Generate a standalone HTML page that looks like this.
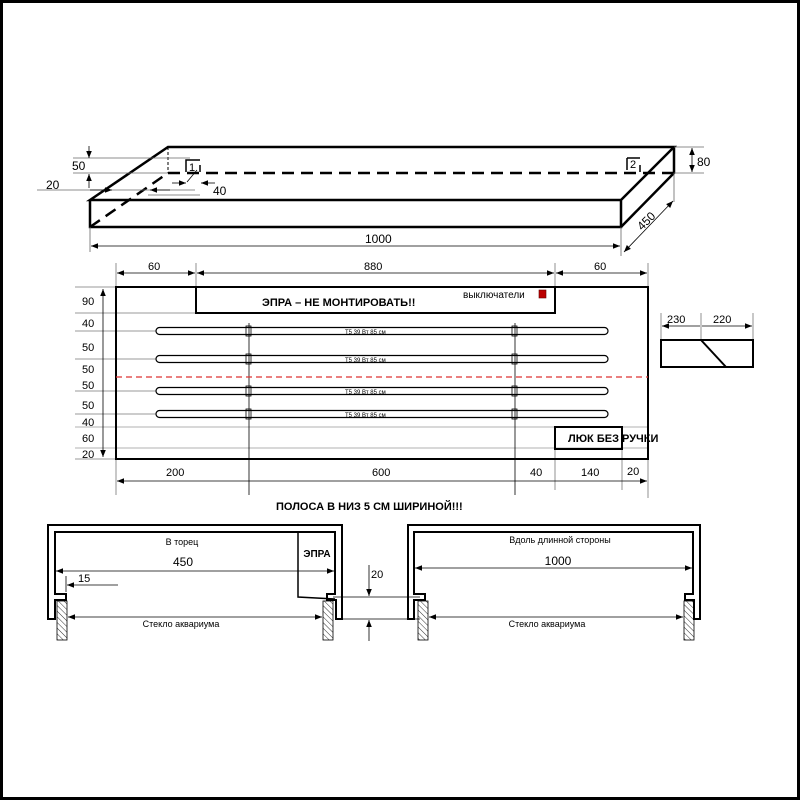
<!DOCTYPE html>
<html><head><meta charset="utf-8"><style>
html,body{margin:0;padding:0;background:#fff}
svg{display:block}
text{font-family:"Liberation Sans",sans-serif;fill:#000}
</style></head><body>
<svg width="800" height="800" viewBox="0 0 800 800" xmlns="http://www.w3.org/2000/svg">
<defs>
<marker id="a" viewBox="0 0 10 10" refX="10" refY="5" markerWidth="10" markerHeight="7" orient="auto-start-reverse" markerUnits="userSpaceOnUse"><path d="M0,1 L10,5 L0,9 z" fill="#000"/></marker>
<pattern id="h" width="4" height="4" patternUnits="userSpaceOnUse" patternTransform="rotate(-45)"><line x1="0" y1="0" x2="0" y2="4" stroke="#000" stroke-width="0.8"/></pattern>
</defs>
<rect x="1.5" y="1.5" width="797" height="797" fill="#fff" stroke="#000" stroke-width="3"/>

<!-- isometric box -->
<g stroke="#000" fill="none">
<path d="M90,200 L168,147 L674,147 L621,200 Z M90,200 L90,227 L621,227 L621,200 M621,227 L674,173 L674,147" stroke-width="2.5"/>
<path d="M168,173 L674,173" stroke-width="2.5" stroke-dasharray="12,7"/>
<path d="M90,227 L168,173" stroke-width="2.5" stroke-dasharray="12,7"/>
<path d="M168,147 L168,173" stroke-width="1" stroke-dasharray="3,2"/>
<path d="M186,172 L186,160 L200,160 M200,165 L200,172" stroke-width="1.5"/>
<path d="M627,158 L627,170 M627,158 L640,158 M640,165 L640,172" stroke-width="1.5"/>
<g stroke-width="0.8" stroke="#666">
<line x1="73" y1="158" x2="190" y2="158"/>
<line x1="73" y1="173" x2="168" y2="173"/>
<line x1="37" y1="190" x2="195" y2="190"/>
<line x1="148" y1="195" x2="200" y2="195"/>
<line x1="674" y1="147" x2="704" y2="147"/>
<line x1="674" y1="173" x2="704" y2="173"/>
<line x1="90" y1="227" x2="90" y2="252"/>
<line x1="621" y1="227" x2="621" y2="256"/>
<line x1="674" y1="173" x2="674" y2="202"/>
</g>
<line x1="89" y1="146" x2="89" y2="158" stroke-width="0.8" marker-end="url(#a)"/>
<line x1="89" y1="188" x2="89" y2="174" stroke-width="0.8" marker-end="url(#a)"/>
<line x1="90" y1="190" x2="112" y2="190" stroke-width="0.8" marker-end="url(#a)"/>
<line x1="170" y1="190" x2="150" y2="190" stroke-width="0.8" marker-end="url(#a)"/>
<line x1="187" y1="182" x2="197" y2="170" stroke-width="0.8"/>
<line x1="215" y1="183" x2="201" y2="183" stroke-width="0.8" marker-end="url(#a)"/>
<line x1="172" y1="183" x2="186" y2="183" stroke-width="0.8" marker-end="url(#a)"/>
<line x1="692" y1="148" x2="692" y2="172" stroke-width="0.8" marker-start="url(#a)" marker-end="url(#a)"/>
<line x1="91" y1="246" x2="620" y2="246" stroke-width="0.8" marker-start="url(#a)" marker-end="url(#a)"/>
<line x1="624" y1="252" x2="673" y2="201" stroke-width="0.8" marker-start="url(#a)" marker-end="url(#a)"/>
</g>
<text x="72" y="170" font-size="12">50</text>
<text x="46" y="189" font-size="12">20</text>
<text x="213" y="195" font-size="12">40</text>
<text x="189" y="171" font-size="11">1</text>
<text x="630" y="168" font-size="11">2</text>
<text x="697" y="166" font-size="12">80</text>
<text x="365" y="243" font-size="12">1000</text>
<text x="0" y="0" font-size="12" transform="translate(642,231) rotate(-45)">450</text>

<!-- plan -->
<g stroke="#000" fill="none">
<g stroke="#777" stroke-width="0.8">
<line x1="116" y1="263" x2="116" y2="287"/><line x1="196" y1="263" x2="196" y2="287"/>
<line x1="555" y1="263" x2="555" y2="287"/><line x1="648" y1="263" x2="648" y2="287"/>
<line x1="75" y1="287" x2="116" y2="287"/>
<line x1="75" y1="313" x2="196" y2="313"/>
<line x1="75" y1="331" x2="156" y2="331"/>
<line x1="75" y1="359" x2="156" y2="359"/>
<line x1="75" y1="391" x2="156" y2="391"/>
<line x1="75" y1="414" x2="156" y2="414"/>
<line x1="75" y1="427" x2="648" y2="427" stroke="#999"/>
<line x1="75" y1="448" x2="648" y2="448" stroke="#999"/>
<line x1="75" y1="459" x2="116" y2="459"/>
<line x1="116" y1="459" x2="116" y2="495"/>
<line x1="555" y1="449" x2="555" y2="490"/>
<line x1="622" y1="449" x2="622" y2="490"/>
<line x1="648" y1="459" x2="648" y2="498"/>
<line x1="661" y1="313" x2="661" y2="340"/><line x1="701" y1="313" x2="701" y2="340"/><line x1="753" y1="313" x2="753" y2="340"/>
</g>
<line x1="249" y1="323" x2="249" y2="495" stroke-width="0.8"/>
<line x1="515" y1="323" x2="515" y2="495" stroke-width="0.8"/>
<line x1="117" y1="273" x2="195" y2="273" stroke-width="0.8" marker-start="url(#a)" marker-end="url(#a)"/>
<line x1="197" y1="273" x2="554" y2="273" stroke-width="0.8" marker-start="url(#a)" marker-end="url(#a)"/>
<line x1="556" y1="273" x2="647" y2="273" stroke-width="0.8" marker-start="url(#a)" marker-end="url(#a)"/>
<line x1="103" y1="289" x2="103" y2="457" stroke-width="0.8" marker-start="url(#a)" marker-end="url(#a)"/>
<line x1="117" y1="481" x2="647" y2="481" stroke-width="0.8" marker-start="url(#a)" marker-end="url(#a)"/>
<line x1="662" y1="326" x2="700" y2="326" stroke-width="0.8" marker-start="url(#a)"/>
<line x1="702" y1="326" x2="752" y2="326" stroke-width="0.8" marker-end="url(#a)"/>
<rect x="116" y="287" width="532" height="172" stroke-width="2"/>
<rect x="196" y="287" width="359" height="26" stroke-width="2"/>
<rect x="555" y="427" width="67" height="22" stroke-width="2"/>
<line x1="116" y1="377" x2="648" y2="377" stroke="#d33" stroke-width="1.3" stroke-dasharray="6,4"/>
<g stroke-width="1.2">
<rect x="156" y="327.5" width="452" height="7" rx="3.5"/>
<rect x="156" y="355.5" width="452" height="7" rx="3.5"/>
<rect x="156" y="387.5" width="452" height="7" rx="3.5"/>
<rect x="156" y="410.5" width="452" height="7" rx="3.5"/>
</g>
<g stroke-width="0.8">
<rect x="246" y="326" width="5" height="10"/><rect x="512" y="326" width="5" height="10"/>
<rect x="246" y="354" width="5" height="10"/><rect x="512" y="354" width="5" height="10"/>
<rect x="246" y="386" width="5" height="10"/><rect x="512" y="386" width="5" height="10"/>
<rect x="246" y="409" width="5" height="10"/><rect x="512" y="409" width="5" height="10"/>
</g>
<rect x="661" y="340" width="92" height="27" stroke-width="2"/>
<line x1="701" y1="340" x2="726" y2="367" stroke-width="2"/>
</g>
<rect x="539" y="290" width="7" height="8" fill="#b00" stroke="#600" stroke-width="0.6"/>
<text x="262" y="306" font-size="11" font-weight="bold">ЭПРА – НЕ МОНТИРОВАТЬ!!</text>
<text x="463" y="298" font-size="10">выключатели</text>
<text x="568" y="442" font-size="11" font-weight="bold">ЛЮК БЕЗ РУЧКИ</text>
<g font-size="6">
<text x="345" y="334">T5 39 Вт 85 см</text>
<text x="345" y="362">T5 39 Вт 85 см</text>
<text x="345" y="394">T5 39 Вт 85 см</text>
<text x="345" y="417">T5 39 Вт 85 см</text>
</g>
<g font-size="11">
<text x="148" y="270">60</text><text x="364" y="270">880</text><text x="594" y="270">60</text>
<text x="82" y="305">90</text><text x="82" y="327">40</text><text x="82" y="351">50</text>
<text x="82" y="373">50</text><text x="82" y="389">50</text><text x="82" y="409">50</text>
<text x="82" y="426">40</text><text x="82" y="442">60</text><text x="82" y="458">20</text>
<text x="166" y="476">200</text><text x="372" y="476">600</text><text x="530" y="476">40</text>
<text x="581" y="476">140</text><text x="627" y="475">20</text>
<text x="667" y="323">230</text><text x="713" y="323">220</text>
</g>
<text x="276" y="510" font-size="11" font-weight="bold">ПОЛОСА В НИЗ 5 СМ ШИРИНОЙ!!!</text>

<!-- sections -->
<g stroke="#000" fill="none">
<path d="M48,619 L48,525 L342,525 L342,619 L336,619 L336,600 L327,600 L327,594 L335,594 L335,532 L55,532 L55,594 L66,594 L66,600 L55,600 L55,619 Z" stroke-width="2"/>
<path d="M408,619 L408,525 L700,525 L700,619 L694,619 L694,600 L685,600 L685,594 L693,594 L693,532 L414,532 L414,594 L425,594 L425,600 L414,600 L414,619 Z" stroke-width="2"/>
<path d="M298,532 L298,597 L335,599" stroke-width="1.5"/>
<g stroke-width="0.8" fill="url(#h)">
<rect x="57" y="601" width="10" height="39"/><rect x="323" y="601" width="10" height="39"/>
<rect x="418" y="601" width="10" height="39"/><rect x="684" y="601" width="10" height="39"/>
</g>
<g stroke-width="0.8">
<line x1="56" y1="571" x2="334" y2="571" marker-start="url(#a)" marker-end="url(#a)"/>
<line x1="68" y1="617" x2="322" y2="617" marker-start="url(#a)" marker-end="url(#a)"/>
<line x1="415" y1="568" x2="692" y2="568" marker-start="url(#a)" marker-end="url(#a)"/>
<line x1="429" y1="617" x2="683" y2="617" marker-start="url(#a)" marker-end="url(#a)"/>
<line x1="66" y1="576" x2="66" y2="592"/>
<line x1="118" y1="585" x2="67" y2="585" marker-end="url(#a)"/>
<line x1="333" y1="597" x2="420" y2="597"/>
<line x1="342" y1="619" x2="420" y2="619"/>
<line x1="369" y1="565" x2="369" y2="596" marker-end="url(#a)"/>
<line x1="369" y1="641" x2="369" y2="620" marker-end="url(#a)"/>
</g>
</g>
<text x="317" y="557" font-size="10" font-weight="bold" text-anchor="middle">ЭПРА</text>
<text x="182" y="545" font-size="9" text-anchor="middle">В торец</text>
<text x="183" y="566" font-size="12" text-anchor="middle">450</text>
<text x="78" y="582" font-size="11">15</text>
<text x="181" y="627" font-size="9" text-anchor="middle">Стекло аквариума</text>
<text x="371" y="578" font-size="11">20</text>
<text x="560" y="543" font-size="9" text-anchor="middle">Вдоль длинной стороны</text>
<text x="558" y="565" font-size="12" text-anchor="middle">1000</text>
<text x="547" y="627" font-size="9" text-anchor="middle">Стекло аквариума</text>
</svg>
</body></html>
